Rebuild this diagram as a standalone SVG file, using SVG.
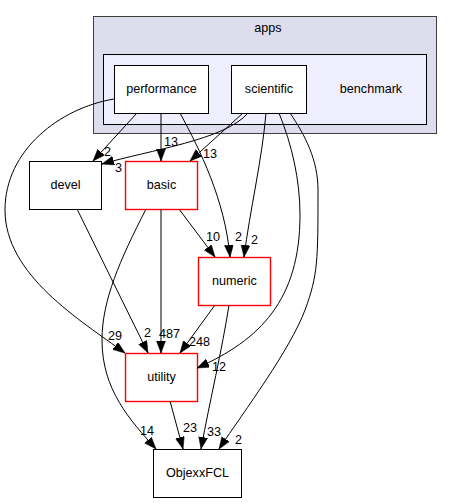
<svg xmlns="http://www.w3.org/2000/svg" width="453" height="503" viewBox="0 0 453 503">
<style>
text{font-family:"Liberation Sans",Arial,Helvetica,sans-serif;font-size:12.6px;fill:#000}
.c{text-anchor:middle}
.e{fill:none;stroke:#000;stroke-width:1;marker-end:url(#ah)}
</style>
<defs>
<marker id="ah" markerUnits="userSpaceOnUse" markerWidth="14" markerHeight="10" refX="12" refY="4.5" orient="auto">
<path d="M0,0 L12,4.5 L0,9 z" fill="#000" stroke="#000" stroke-width="0.5"/>
</marker>
</defs>
<g id="cluster_apps">
<rect x="93.5" y="16.5" width="343" height="117" fill="#ddddee" stroke="#404040"/>
<text class="c" x="268" y="32">apps</text>
</g>
<g id="cluster_benchmark">
<rect x="103.5" y="54.5" width="323" height="70" fill="#eeeeff" stroke="#000"/>
<text class="c" x="371" y="93">benchmark</text>
</g>
<g id="performance">
<rect x="114.5" y="65.5" width="94" height="48" fill="#ffffff" stroke="#000000"/>
<text class="c" x="161.5" y="93">performance</text>
</g>
<g id="scientific">
<rect x="231.5" y="65.5" width="75" height="48" fill="#ffffff" stroke="#000000"/>
<text class="c" x="269" y="93">scientific</text>
</g>
<g id="devel">
<rect x="29.5" y="161.5" width="72" height="48" fill="#ffffff" stroke="#000000"/>
<text class="c" x="65.5" y="189">devel</text>
</g>
<g id="basic">
<rect x="125.5" y="161.5" width="72" height="48" fill="#ffffff" stroke="#ff0000" stroke-width="1.4"/>
<text class="c" x="161.5" y="189">basic</text>
</g>
<g id="numeric">
<rect x="198.5" y="257.5" width="72" height="48" fill="#ffffff" stroke="#ff0000" stroke-width="1.4"/>
<text class="c" x="234.5" y="285">numeric</text>
</g>
<g id="utility">
<rect x="125.5" y="353.5" width="72" height="48" fill="#ffffff" stroke="#ff0000" stroke-width="1.4"/>
<text class="c" x="161.5" y="381">utility</text>
</g>
<g id="ObjexxFCL">
<rect x="153.5" y="449.5" width="88" height="48" fill="#ffffff" stroke="#000000"/>
<text class="c" x="197.5" y="477">ObjexxFCL</text>
</g>
<g id="edges">
<path class="e" d="M137,113 L93,161"/>
<text x="104" y="156">2</text>
<path class="e" d="M248,113 C225,140 150,150 102,164"/>
<text x="115" y="172">3</text>
<path class="e" d="M161,113 L161,161"/>
<text x="164" y="146">13</text>
<path class="e" d="M243,113 L190,161"/>
<text x="203" y="158">13</text>
<path class="e" d="M180,113 C200,150 225,200 230,257"/>
<text x="235" y="241">2</text>
<path class="e" d="M266,113 C262,160 250,210 244,257"/>
<text x="251" y="244">2</text>
<path class="e" d="M279,113 C292,145 300,180 300,215 C300,300 260,340 197,368"/>
<text x="212" y="371">12</text>
<path class="e" d="M290,113 C305,135 318,160 318,190 C318,260 318,275 305,310 C290,350 245,410 219,449"/>
<text x="235" y="444">2</text>
<path class="e" d="M114,99 C60,108 5,150 5,210 C5,275 80,320 125,353"/>
<text x="108" y="340">29</text>
<path class="e" d="M77,209 L148,353"/>
<text x="144" y="337">2</text>
<path class="e" d="M161,209 L161,353"/>
<text x="159" y="338">487</text>
<path class="e" d="M179,209 L215,257"/>
<text x="206" y="241">10</text>
<path class="e" d="M146,209 C120,260 102,300 102,340 C102,390 130,420 156,449"/>
<text x="140" y="435">14</text>
<path class="e" d="M215,305 L180,353"/>
<text x="189" y="346">248</text>
<path class="e" d="M229,305 C222,350 210,400 201,449"/>
<text x="207" y="436">33</text>
<path class="e" d="M170,401 L183,449"/>
<text x="183" y="432">23</text>
</g>
</svg>
